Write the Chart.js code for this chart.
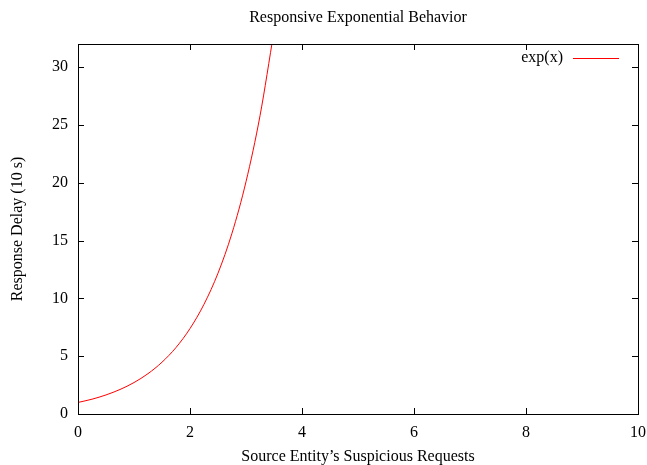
<!DOCTYPE html>
<html>
<head>
<meta charset="utf-8">
<script src="https://cdn.jsdelivr.net/npm/chart.js@4/dist/chart.umd.min.js"></script>
<style>
  html, body { margin: 0; padding: 0; background: #fff; }
  #wrap { width: 647px; height: 465px; }
</style>
</head>
<body>
<div id="wrap"><canvas id="chart" width="647" height="465"></canvas></div>
<script>
// values
const xValues = [0, 0.25, 0.5, 0.75, 1, 1.25, 1.5, 1.75, 2, 2.25, 2.5, 2.75, 3, 3.25, 3.5]
const yValues = [1, 1.28, 1.65, 2.12, 2.72, 3.49, 4.48, 5.75, 7.39, 9.49, 12.18, 15.64, 20.09, 25.79, 33.12]
const xTicks = [0, 2, 4, 6, 8, 10]
const yTicks = [0, 5, 10, 15, 20, 25, 30]
const seriesLabel = "exp(x)"
const chartTitle = "Responsive Exponential Behavior"
const xTitle = "Source Entity\u2019s Suspicious Requests"
const yTitle = "Response Delay (10 s)"

const serif = "'Liberation Serif', 'DejaVu Serif', serif"

// gnuplot style frame: border, inward ticks on all sides, titles, key
const gnuFrame = {
  id: "gnuFrame",
  afterDraw(chart) {
    const c = chart.ctx
    const a = chart.chartArea
    const xs = chart.scales.x
    const ys = chart.scales.y
    c.save()
    c.strokeStyle = "#000"
    c.lineWidth = 1
    c.beginPath()
    xs.ticks.forEach((t) => {
      const px = Math.round(xs.getPixelForValue(t.value)) + 0.5
      c.moveTo(px, a.bottom); c.lineTo(px, a.bottom - 6)
      c.moveTo(px, a.top); c.lineTo(px, a.top + 6)
    })
    ys.ticks.forEach((t) => {
      const py = Math.round(ys.getPixelForValue(t.value)) + 0.5
      c.moveTo(a.left, py); c.lineTo(a.left + 6, py)
      c.moveTo(a.right, py); c.lineTo(a.right - 6, py)
    })
    c.stroke()
    c.strokeRect(Math.round(a.left) + 0.5, Math.round(a.top) + 0.5,
      Math.round(a.right - a.left), Math.round(a.bottom - a.top))

    c.fillStyle = "#000"
    c.font = "16px " + serif
    c.textAlign = "center"
    c.textBaseline = "middle"
    const cx = (a.left + a.right) / 2
    c.fillText(chartTitle, cx, 18)
    c.fillText(xTitle, cx, 457)
    c.save()
    c.translate(18, (a.top + a.bottom) / 2)
    c.rotate(-Math.PI / 2)
    c.fillText(yTitle, 0, 0)
    c.restore()

    // key
    const ds = chart.data.datasets[0]
    c.textAlign = "right"
    c.fillText(ds.label, 563, 58)
    c.strokeStyle = ds.borderColor
    c.beginPath()
    c.moveTo(573, 58.5); c.lineTo(619, 58.5)
    c.stroke()
    c.restore()
  }
}

new Chart(document.getElementById("chart"), {
  type: "line",
  data: {
    labels: xValues,
    datasets: [{
      label: seriesLabel,
      data: xValues.map((x, i) => ({ x: x, y: yValues[i] })),
      borderColor: "#ff0000",
      borderWidth: 1,
      pointRadius: 0,
      fill: false,
      cubicInterpolationMode: "monotone"
    }]
  },
  options: {
    responsive: false,
    animation: false,
    devicePixelRatio: 1,
    layout: { padding: { top: 44, right: 9, left: 0, bottom: 0 } },
    plugins: {
      legend: { display: false },
      title: { display: false },
      tooltip: { enabled: false }
    },
    scales: {
      x: {
        type: "linear",
        min: 0,
        max: 10,
        grid: { display: false, drawTicks: false },
        border: { display: false },
        ticks: { padding: 9, color: "#000", font: { family: serif, size: 16 }, maxRotation: 0 },
        afterBuildTicks: (s) => { s.ticks = xTicks.map((v) => ({ value: v })) },
        afterFit: (s) => { s.height = 51; s.paddingLeft = 0; s.paddingRight = 0 }
      },
      y: {
        min: 0,
        max: 32,
        grid: { display: false, drawTicks: false },
        border: { display: false },
        ticks: { padding: 10, color: "#000", font: { family: serif, size: 16 } },
        afterBuildTicks: (s) => { s.ticks = yTicks.map((v) => ({ value: v })) },
        afterFit: (s) => { s.width = 78; s.paddingTop = 0; s.paddingBottom = 0 }
      }
    }
  },
  plugins: [gnuFrame]
})
</script>
</body>
</html>
